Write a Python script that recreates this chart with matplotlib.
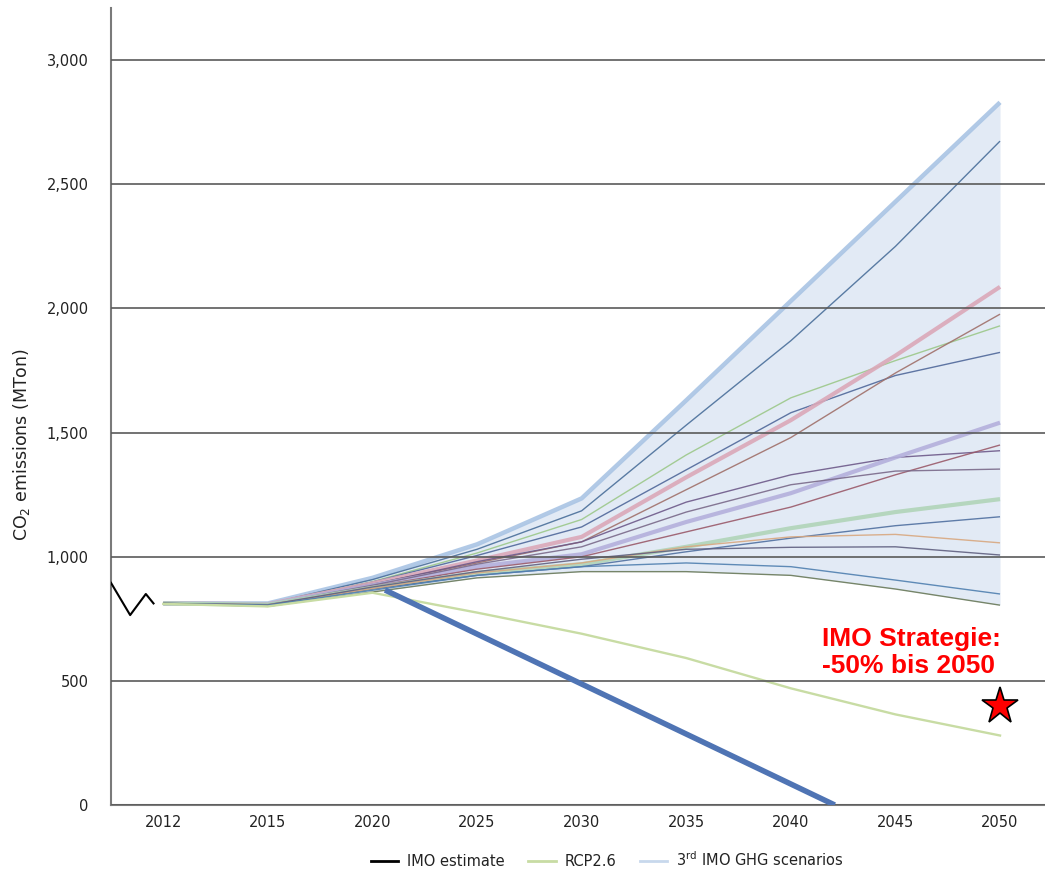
import numpy as np
import matplotlib
matplotlib.use("Agg")
import matplotlib.pyplot as plt
from matplotlib.lines import Line2D

# ---------------- data ----------------
tick_years = [2012, 2015, 2020, 2025, 2030, 2035, 2040, 2045, 2050]
yticks = [0, 500, 1000, 1500, 2000, 2500, 3000]

imo_years = [2010.5, 2011.05, 2011.5, 2011.72]
imo_vals = [895, 765, 850, 812]

rcp_years = tick_years
rcp_vals = [810, 800, 855, 775, 690, 592, 470, 365, 280]

scen_years = tick_years
s01 = [812, 812, 915, 1050, 1235, 1630, 2030, 2430, 2830]
s02 = [812, 810, 908, 1030, 1185, 1530, 1870, 2250, 2674]
s03 = [812, 809, 900, 1015, 1150, 1410, 1640, 1790, 1930]
s04 = [812, 809, 898, 1005, 1120, 1350, 1580, 1730, 1823]
s05 = [812, 809, 893, 985, 1080, 1320, 1550, 1810, 2087]
s06 = [812, 808, 890, 975, 1060, 1270, 1480, 1740, 1977]
s07 = [812, 808, 888, 980, 1060, 1220, 1330, 1400, 1427]
s08 = [812, 808, 885, 960, 1010, 1140, 1256, 1400, 1540]
s09 = [812, 808, 880, 950, 1000, 1100, 1200, 1330, 1450]
s10 = [812, 808, 885, 970, 1040, 1180, 1290, 1345, 1353]
s11 = [812, 807, 875, 935, 970, 1040, 1115, 1180, 1232]
s12 = [812, 807, 870, 925, 960, 1020, 1075, 1125, 1161]
s13 = [812, 807, 872, 935, 975, 1040, 1080, 1090, 1056]
s14 = [812, 806, 878, 940, 990, 1030, 1038, 1040, 1007]
s15 = [812, 805, 865, 925, 960, 975, 960, 906, 850]
s16 = [812, 800, 858, 915, 940, 940, 925, 870, 805]
scenarios = [s01, s02, s03, s04, s05, s06, s07, s08, s09, s10, s11, s12, s13, s14, s15, s16]

target_years = [2020.6, 2042.1]
target_vals = [866, 0]

star_year = 2050
star_val = 400

# ---------------- styles ----------------
scen_styles = [
    ('#a9c4e4', 3.2), ('#4a6f9a', 1.0), ('#9cc88a', 1.0), ('#50689a', 1.0),
    ('#dba8b8', 3.0), ('#a0706a', 1.0), ('#6e5a8a', 1.0), ('#b4b0dc', 3.0),
    ('#9a5a6a', 1.0), ('#7a6a8a', 1.0), ('#b0d4b8', 3.0), ('#5070a0', 1.0),
    ('#d8a880', 1.0), ('#606080', 1.0), ('#5080b0', 1.0), ('#6a7a5a', 1.0),
]


def fwd(y):
    y = np.asarray(y, float)
    return np.where(y < 2015, (y - 2012) / 3.0, 1 + (y - 2015) / 5.0)


def inv(p):
    p = np.asarray(p, float)
    return np.where(p < 1, 2012 + 3.0 * p, 2015 + 5.0 * (p - 1))


fig = plt.figure(figsize=(10.45, 8.72), dpi=100)
ax = fig.add_axes([0.1062, 0.0768, 0.8938, 0.914])
ax.set_xscale('function', functions=(fwd, inv))

arr = np.array(scenarios, float)
ax.fill_between(scen_years, arr.min(axis=0), arr.max(axis=0),
                color='#e2eaf5', lw=0, zorder=1)
for vals, (c, lw) in zip(scenarios, scen_styles):
    ax.plot(scen_years, vals, color=c, lw=lw, alpha=0.9, zorder=2,
            solid_capstyle='butt')

ax.plot(imo_years, imo_vals, color='black', lw=1.5, zorder=3)
ax.plot(rcp_years, rcp_vals, color='#c8dca4', lw=1.7, zorder=2.2)
ax.plot(target_years, target_vals, color='#4f74b4', lw=4, zorder=3,
        solid_capstyle='butt')

ax.plot([star_year], [star_val], marker='*', ms=28, color='#ff0000',
        markeredgecolor='black', markeredgewidth=1.2, zorder=5, clip_on=False)
ax.text(2041.5, 718, 'IMO Strategie:\n-50% bis 2050', color='#ff0000',
        fontsize=19, fontweight='bold', family=['Liberation Sans', 'DejaVu Sans'],
        va='top', ha='left', linespacing=1.15, zorder=6)

ax.set_xlim(2010.5, 2052.15)
ax.set_ylim(0, 3210)
ax.set_xticks(tick_years)
ax.set_xticklabels([str(y) for y in tick_years])
ax.set_yticks(yticks)
ax.set_yticklabels([f'{v:,}' for v in yticks])
ax.tick_params(axis='both', length=0, labelsize=10.5, labelcolor='#222222')
ax.tick_params(axis='y', pad=16)
ax.tick_params(axis='x', pad=7)
ax.minorticks_off()

ax.yaxis.grid(True, color='#5a5a5a', lw=1.2)
ax.set_axisbelow(False)
for s in ['top', 'right']:
    ax.spines[s].set_visible(False)
for s in ['left', 'bottom']:
    ax.spines[s].set_color('#7a7a7a')
    ax.spines[s].set_linewidth(1.5)

fig.text(0.021, 0.49, r'CO$_2$ emissions (MTon)', rotation=90, fontsize=12.5,
         ha='center', va='center', color='#222222')

handles = [Line2D([], [], color='black', lw=2),
           Line2D([], [], color='#c8dca4', lw=2),
           Line2D([], [], color='#c8d8ec', lw=2)]
labels = ['IMO estimate', 'RCP2.6', r'3$^{\mathrm{rd}}$ IMO GHG scenarios']
fig.legend(handles, labels, loc='center', bbox_to_anchor=(0.581, 0.0138),
           ncol=3, frameon=False, fontsize=10.5, handlelength=1.9,
           handletextpad=0.6, columnspacing=1.6, labelcolor='#222222')

fig.savefig('out.png', dpi=100)
